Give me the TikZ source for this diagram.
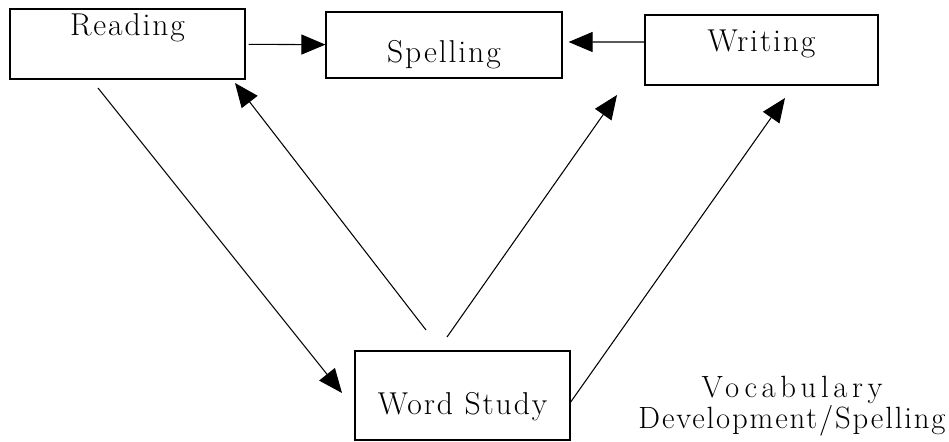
\documentclass[tikz,border=0pt]{standalone}
\usepackage{fontspec}
\setmainfont{Latin Modern Roman}[LetterSpace=6]
\usepackage{tikz}
\usetikzlibrary{arrows.meta, positioning}
\tikzset{%
	stage box/.style={
		draw,
		line width=0.7pt,
		inner sep=2pt,
		font=\fontsize{18}{22}\selectfont
	},
}

\begin{document}
\begin{tikzpicture}[
			x=0.02cm, y=-0.02cm,
			link/.style={line width=0.6pt, -{Triangle[length=0.48cm, width=0.4cm]}},
			note/.style={align=center, font=\fontsize{17.5}{18}\selectfont}
			]
			\useasboundingbox (0,0) rectangle (949,442);
			
			% Boxes
			\node[stage box, minimum width=4.7cm, minimum height=1.4cm, text height=0.4cm, text depth=0.72cm] (reading) at (127.5,44) {Reading};
			\node[stage box, minimum width=4.72cm, minimum height=1.32cm, text height=0.72cm, text depth=0cm] (spelling) at (444,45) {Spelling};
			\node[stage box, minimum width=4.66cm, minimum height=1.4cm, text height=0.44cm, text depth=0.36cm] (writing) at (761.5,50) {Writing};
			\node[stage box, minimum width=4.3cm, minimum height=1.78cm, text height=0.78cm, text depth=0cm] (study) at (462.5,395.5) {Word Study};
			
			\node[note] (vocab) at (792,406) {{\addfontfeature{LetterSpace=15}Vocabulary}\\Development/Spelling};
			
			% Free ends of the slanted arrows
			\coordinate (reading out) at (98,88);
			\coordinate (study in) at (342,393);
			\coordinate (study out1) at (426,330);
			\coordinate (reading in) at (235,83);
			\coordinate (study out2) at (447,337);
			\coordinate (spelling in) at (617,95);
			\coordinate (study out3) at (570,403);
			\coordinate (writing in) at (785,98);
			
			% Arrows
			\draw[link, shorten <=0.06cm] (reading) -- (spelling);
			\draw[link, shorten >=0.12cm] ([yshift=0.16cm]writing.west) -- ([yshift=0.06cm]spelling.east);
			
			\draw[link] (reading out) -- (study in);
			\draw[link] (study out1) -- (reading in);
			\draw[link] (study out2) -- (spelling in);
			\draw[link] (study out3) -- (writing in);
			
		\end{tikzpicture}
\end{document}
